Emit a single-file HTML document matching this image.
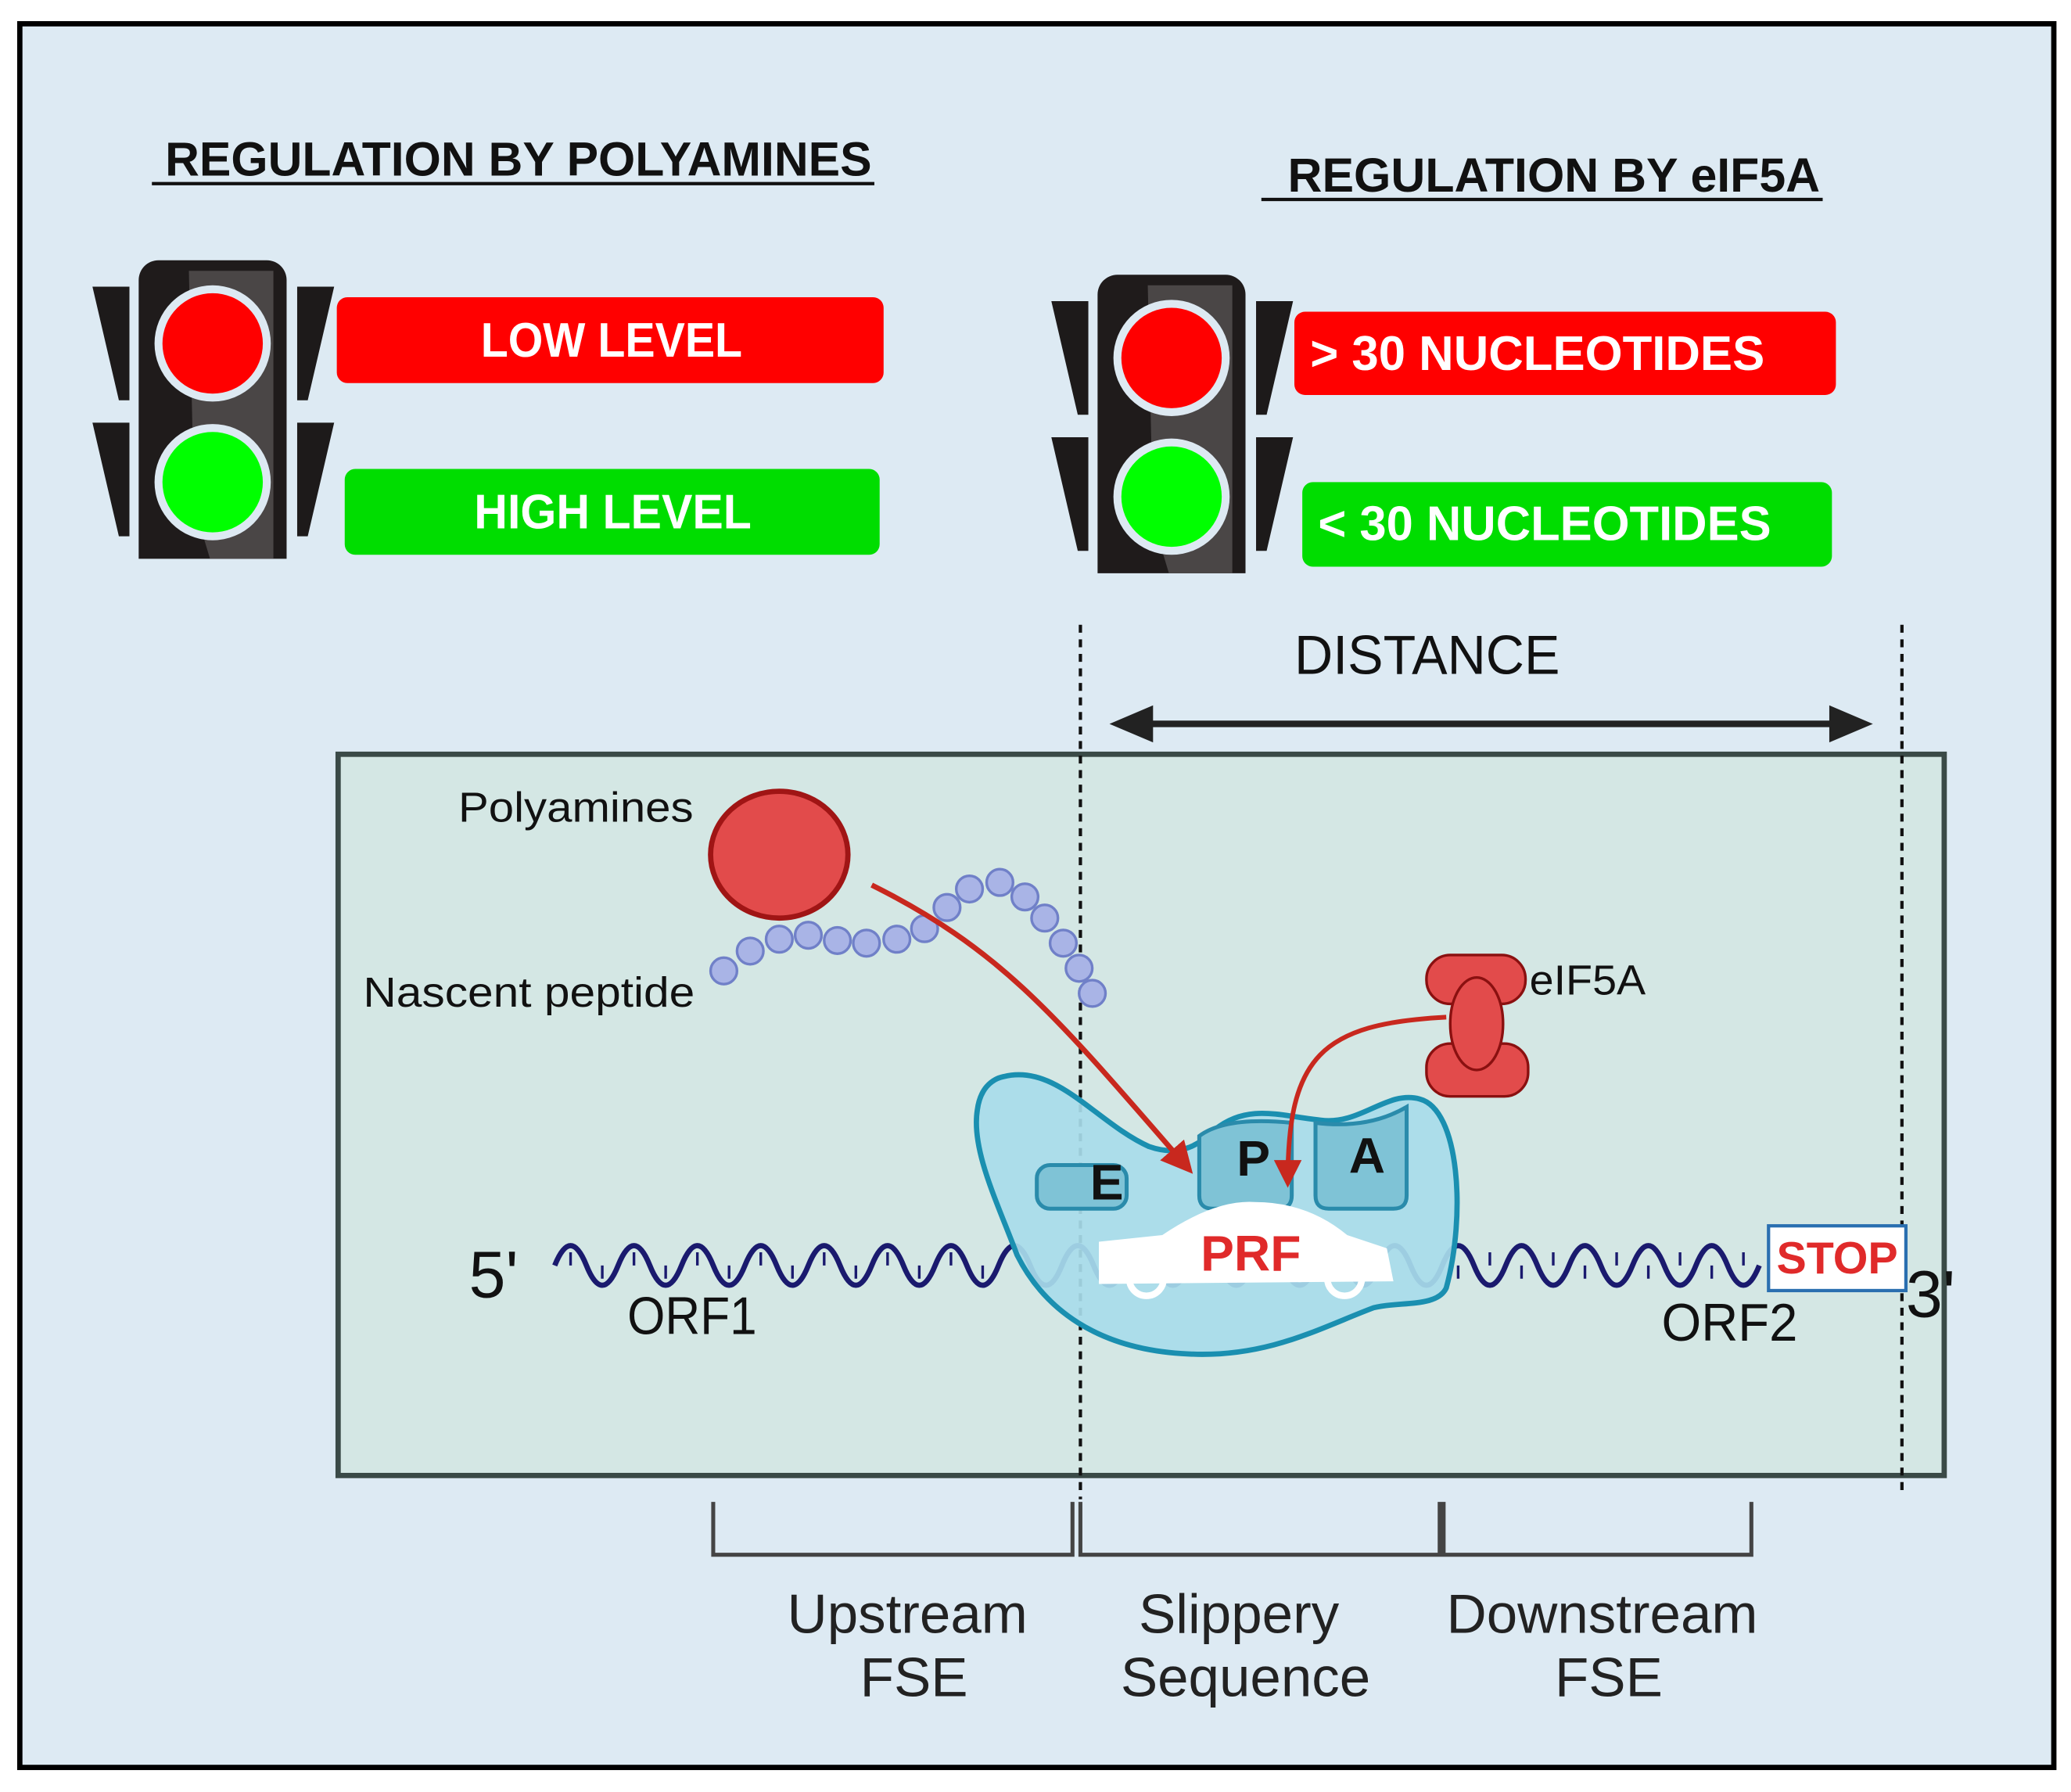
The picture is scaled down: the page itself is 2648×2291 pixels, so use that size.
<!DOCTYPE html>
<html><head><meta charset="utf-8"><style>html,body{margin:0;padding:0;background:#fff}svg{display:block}</style></head>
<body>
<svg width="2648" height="2291" viewBox="0 0 1568 1356.6" preserveAspectRatio="none" xmlns="http://www.w3.org/2000/svg" font-family="Liberation Sans, sans-serif">
<defs>
<marker id="ah" viewBox="0 0 10 10" refX="8" refY="5" markerWidth="6" markerHeight="6" orient="auto"><path d="M0,0L10,5L0,10z" fill="#c8281e"/></marker>
<g id="tl">
<path d="M70,217h28v86h-8z M70,320h28v86h-8z" fill="#1d1a1a"/>
<path d="M253,217h-28v86h8z M253,320h-28v86h8z" fill="#1d1a1a"/>
<path d="M105,423V212a15,15 0 0 1 15,-15h82a15,15 0 0 1 15,15V423z" fill="#1f1b1b"/>
<path d="M143,205h64v218h-48l-12,-40z" fill="#4a4646"/>
<circle cx="161" cy="260" r="44" fill="#dde9f2"/><circle cx="161" cy="260" r="38" fill="#ff0000"/>
<circle cx="161" cy="365" r="44" fill="#dde9f2"/><circle cx="161" cy="365" r="38" fill="#00ff00"/>
</g>
</defs>
<rect x="15" y="18" width="1540" height="1320" fill="#ddeaf3" stroke="#000" stroke-width="4"/>
<text x="125" y="133" font-size="36" font-weight="bold" fill="#111" textLength="535" lengthAdjust="spacingAndGlyphs">REGULATION BY POLYAMINES</text>
<line x1="115" y1="139" x2="662" y2="139" stroke="#111" stroke-width="2.5"/>
<text x="975" y="145" font-size="36" font-weight="bold" fill="#111" textLength="403" lengthAdjust="spacingAndGlyphs">REGULATION BY eIF5A</text>
<line x1="955" y1="151" x2="1380" y2="151" stroke="#111" stroke-width="2.5"/>
<use href="#tl"/>
<use href="#tl" transform="translate(726,11)"/>
<rect x="255" y="225" width="414" height="65" rx="8" fill="#ff0000"/>
<text x="364" y="270" font-size="37" font-weight="bold" fill="#fff" textLength="198" lengthAdjust="spacingAndGlyphs">LOW LEVEL</text>
<rect x="261" y="355" width="405" height="65" rx="8" fill="#00dd00"/>
<text x="359" y="400" font-size="37" font-weight="bold" fill="#fff" textLength="210" lengthAdjust="spacingAndGlyphs">HIGH LEVEL</text>
<rect x="980" y="236" width="410" height="63" rx="8" fill="#ff0000"/>
<text x="992" y="280" font-size="37" font-weight="bold" fill="#fff" textLength="344" lengthAdjust="spacingAndGlyphs">&gt; 30 NUCLEOTIDES</text>
<rect x="986" y="365" width="401" height="64" rx="8" fill="#00dd00"/>
<text x="998" y="409" font-size="37" font-weight="bold" fill="#fff" textLength="343" lengthAdjust="spacingAndGlyphs">&lt; 30 NUCLEOTIDES</text>
<text x="980" y="510" font-size="42" fill="#111" textLength="201" lengthAdjust="spacingAndGlyphs">DISTANCE</text>
<line x1="860" y1="548" x2="1395" y2="548" stroke="#222" stroke-width="5"/>
<path d="M840,548 L873,534 L873,562Z M1418,548 L1385,534 L1385,562Z" fill="#222"/>
<rect x="256" y="571" width="1216" height="546" fill="#d4e7e4" stroke="#3a4a47" stroke-width="4"/>
<line x1="818" y1="473" x2="818" y2="1135" stroke="#111" stroke-width="2.5" stroke-dasharray="6,5"/>
<line x1="1440" y1="473" x2="1440" y2="1130" stroke="#111" stroke-width="2.5" stroke-dasharray="6,5"/>
<text x="347" y="622" font-size="32" fill="#111" textLength="178" lengthAdjust="spacingAndGlyphs">Polyamines</text>
<text x="275" y="762" font-size="32" fill="#111" textLength="251" lengthAdjust="spacingAndGlyphs">Nascent peptide</text>
<ellipse cx="590" cy="647" rx="52" ry="48" fill="#e24b4b" stroke="#a01515" stroke-width="4"/>
<g fill="#a9b4e6" stroke="#7080c8" stroke-width="2">
<circle cx="548" cy="735" r="10"/><circle cx="568" cy="720" r="10"/><circle cx="590" cy="711" r="10"/><circle cx="612" cy="708" r="10"/><circle cx="634" cy="712" r="10"/><circle cx="656" cy="714" r="10"/><circle cx="679" cy="711" r="10"/><circle cx="700" cy="703" r="10"/><circle cx="717" cy="687" r="10"/><circle cx="734" cy="673" r="10"/><circle cx="757" cy="668" r="10"/><circle cx="776" cy="679" r="10"/><circle cx="791" cy="695" r="10"/><circle cx="805" cy="714" r="10"/><circle cx="817" cy="733" r="10"/><circle cx="827" cy="752" r="10"/>
</g>
<path d="M420,958 q12,-30 24,0 t24,0 t24,0 t24,0 t24,0 t24,0 t24,0 t24,0 t24,0 t24,0 t24,0 t24,0 t24,0 t24,0 t24,0 t24,0 t24,0 t24,0 t24,0 t24,0 t24,0 t24,0 t24,0 t24,0 t24,0 t24,0 t24,0 t24,0 t24,0 t24,0 t24,0 t24,0 t24,0 t24,0 t24,0 t24,0 t24,0 t24,0" fill="none" stroke="#1a1a6e" stroke-width="4"/>
<path d="M432,948v10 M456,958v10 M480,948v10 M504,958v10 M528,948v10 M552,958v10 M576,948v10 M600,958v10 M624,948v10 M648,958v10 M672,948v10 M696,958v10 M720,948v10 M744,958v10 M1104,958v10 M1128,948v10 M1152,958v10 M1176,948v10 M1200,958v10 M1224,948v10 M1248,958v10 M1272,948v10 M1296,958v10 M1320,948v10" stroke="#1a1a6e" stroke-width="2"/>
<path d="M760,815 C800,805 830,850 870,868 C890,875 905,870 920,855 C945,835 970,845 1000,848 C1030,852 1050,825 1075,832 C1105,840 1110,920 1095,975 C1088,990 1060,985 1040,990 C1000,1005 960,1028 900,1025 C830,1022 790,990 770,950 C755,910 735,870 740,840 C742,825 750,817 760,815Z" fill="#a8dcea" fill-opacity="0.92" stroke="#1a8fb0" stroke-width="4"/>
<rect x="785" y="882" width="68" height="33" rx="10" fill="#7fc3d6" stroke="#2a8bab" stroke-width="3"/>
<path d="M908,860 q20,-15 70,-10 v55 q0,10 -10,10 h-50 q-10,0 -10,-10z" fill="#7fc3d6" stroke="#2a8bab" stroke-width="3"/>
<path d="M996,850 q40,5 69,-12 v67 q0,10 -10,10 h-49 q-10,0 -10,-10z" fill="#7fc3d6" stroke="#2a8bab" stroke-width="3"/>
<text x="838" y="908" font-size="38" font-weight="bold" fill="#111" text-anchor="middle">E</text>
<text x="949" y="890" font-size="38" font-weight="bold" fill="#111" text-anchor="middle">P</text>
<text x="1035" y="888" font-size="38" font-weight="bold" fill="#111" text-anchor="middle">A</text>
<path d="M832,972 V940 L880,935 Q920,908 950,910 Q990,910 1020,935 L1050,945 L1055,970 Z" fill="#fff"/>
<circle cx="868" cy="968" r="13" fill="none" stroke="#fff" stroke-width="5"/>
<circle cx="1018" cy="968" r="13" fill="none" stroke="#fff" stroke-width="5"/>
<text x="947" y="962" font-size="38" font-weight="bold" fill="#e02a2a" text-anchor="middle">PRF</text>
<path d="M660,670 C760,720 800,770 900,885" fill="none" stroke="#c8281e" stroke-width="4" marker-end="url(#ah)"/>
<path d="M1095,770 C1000,775 975,800 975,895" fill="none" stroke="#c8281e" stroke-width="3.5" marker-end="url(#ah)"/>
<g fill="#e24b4b" stroke="#8a1010" stroke-width="2">
<rect x="1080" y="723" width="75" height="37" rx="18"/>
<rect x="1080" y="790" width="77" height="40" rx="18"/>
<ellipse cx="1118" cy="775" rx="20" ry="35"/>
</g>
<text x="1158" y="753" font-size="32" fill="#111" textLength="88" lengthAdjust="spacingAndGlyphs">eIF5A</text>
<text x="355" y="982" font-size="50" fill="#111">5'</text>
<text x="1443" y="997" font-size="50" fill="#111">3'</text>
<text x="475" y="1010" font-size="40" fill="#111" textLength="98" lengthAdjust="spacingAndGlyphs">ORF1</text>
<text x="1258" y="1015" font-size="40" fill="#111" textLength="103" lengthAdjust="spacingAndGlyphs">ORF2</text>
<rect x="1339" y="928" width="104" height="49" fill="#fff" stroke="#2a6fb0" stroke-width="2.5"/>
<text x="1391" y="964" font-size="34" font-weight="bold" fill="#e02a2a" text-anchor="middle">STOP</text>
<path d="M540,1137V1177H812V1137 M818,1137V1177H1090V1137 M1093,1137V1177H1326V1137" fill="none" stroke="#444" stroke-width="3"/>
<g font-size="42" fill="#222" text-anchor="middle">
<text x="687" y="1236">Upstream</text><text x="692" y="1284">FSE</text>
<text x="938" y="1236">Slippery</text><text x="943" y="1284">Sequence</text>
<text x="1213" y="1236">Downstream</text><text x="1218" y="1284">FSE</text>
</g>
</svg>
</body></html>
